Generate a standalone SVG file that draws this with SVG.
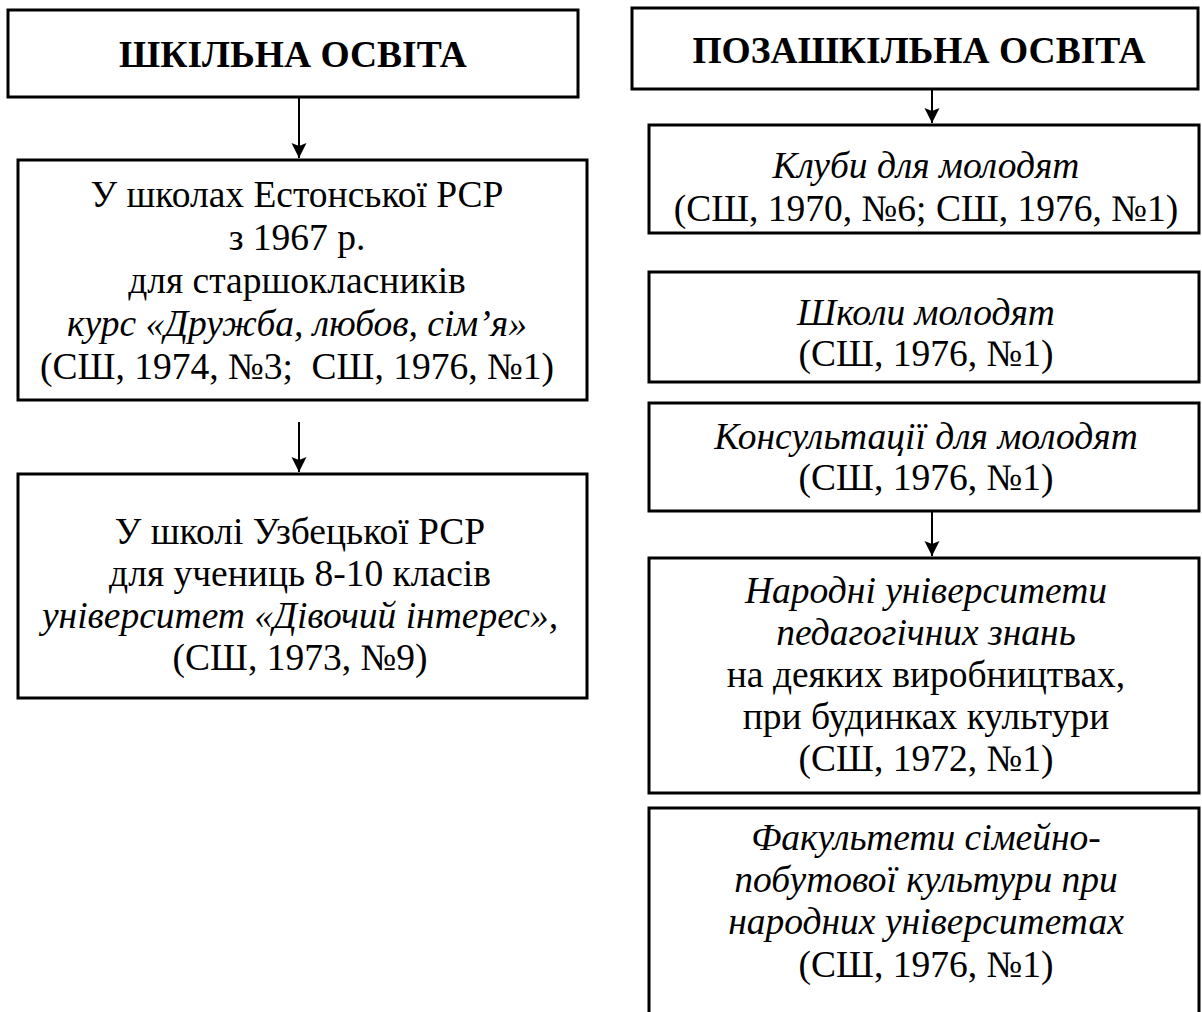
<svg xmlns="http://www.w3.org/2000/svg" width="1202" height="1012" viewBox="0 0 1202 1012">
<style>
.box{fill:#fff;stroke:#000;stroke-width:3}
.t{font-family:"Liberation Serif","Times New Roman",serif;font-size:37.5px;fill:#000;text-anchor:middle}
.b{font-weight:bold}
.i{font-style:italic}
.c{stroke:#000;stroke-width:2;fill:none;marker-end:url(#ah)}
</style>
<defs>
<marker id="ah" markerUnits="userSpaceOnUse" markerWidth="16" markerHeight="16" viewBox="-15 -8 16 16" refX="0" refY="0" orient="auto">
<path d="M0,0 L-15,-7.5 L-12,0 L-15,7.5 Z" fill="#000"/>
</marker>
</defs>
<rect width="1202" height="1012" fill="#fff"/>
<g id="connectors">
<line class="c" x1="299" y1="98" x2="299" y2="158"/>
<line class="c" x1="299" y1="422" x2="299" y2="472"/>
<line class="c" x1="932" y1="90" x2="932" y2="123"/>
<line class="c" x1="932" y1="512" x2="932" y2="556"/>
</g>
<g id="school">
<rect class="box" x="8" y="10" width="570" height="87"/>
<text class="t b" x="293" y="67">ШКІЛЬНА ОСВІТА</text>
</g>
<g id="estonia">
<rect class="box" x="18" y="160" width="569" height="240"/>
<text class="t" x="297" y="207">У школах Естонської РСР</text>
<text class="t" x="297" y="250">з 1967 р.</text>
<text class="t" x="297" y="293">для старшокласників</text>
<text class="t i" x="297" y="336">курс «Дружба, любов, сім’я»</text>
<text class="t" x="297" y="379" xml:space="preserve">(СШ, 1974, №3;  СШ, 1976, №1)</text>
</g>
<g id="uzbek">
<rect class="box" x="18" y="474" width="569" height="224"/>
<text class="t" x="300" y="544">У школі Узбецької РСР</text>
<text class="t" x="300" y="586">для учениць 8-10 класів</text>
<text class="t i" x="300" y="628">університет «Дівочий інтерес»,</text>
<text class="t" x="300" y="670">(СШ, 1973, №9)</text>
</g>
<g id="extracurricular">
<rect class="box" x="632" y="8" width="566" height="81"/>
<text class="t b" x="919" y="63">ПОЗАШКІЛЬНА ОСВІТА</text>
</g>
<g id="clubs">
<rect class="box" x="649" y="125" width="550" height="108"/>
<text class="t i" x="926" y="178">Клуби для молодят</text>
<text class="t" x="926" y="221">(СШ, 1970, №6; СШ, 1976, №1)</text>
</g>
<g id="schools">
<rect class="box" x="649" y="272" width="550" height="110"/>
<text class="t i" x="926" y="325">Школи молодят</text>
<text class="t" x="926" y="366">(СШ, 1976, №1)</text>
</g>
<g id="consult">
<rect class="box" x="649" y="403" width="550" height="108"/>
<text class="t i" x="926" y="449">Консультації для молодят</text>
<text class="t" x="926" y="490">(СШ, 1976, №1)</text>
</g>
<g id="univ">
<rect class="box" x="649" y="558" width="550" height="235"/>
<text class="t i" x="926" y="603">Народні університети</text>
<text class="t i" x="926" y="645">педагогічних знань</text>
<text class="t" x="926" y="687">на деяких виробництвах,</text>
<text class="t" x="926" y="729">при будинках культури</text>
<text class="t" x="926" y="771">(СШ, 1972, №1)</text>
</g>
<g id="faculty">
<rect class="box" x="649" y="808" width="550" height="230"/>
<text class="t i" x="926" y="850">Факультети сімейно-</text>
<text class="t i" x="926" y="892">побутової культури при</text>
<text class="t i" x="926" y="934">народних університетах</text>
<text class="t" x="926" y="977">(СШ, 1976, №1)</text>
</g>
</svg>
